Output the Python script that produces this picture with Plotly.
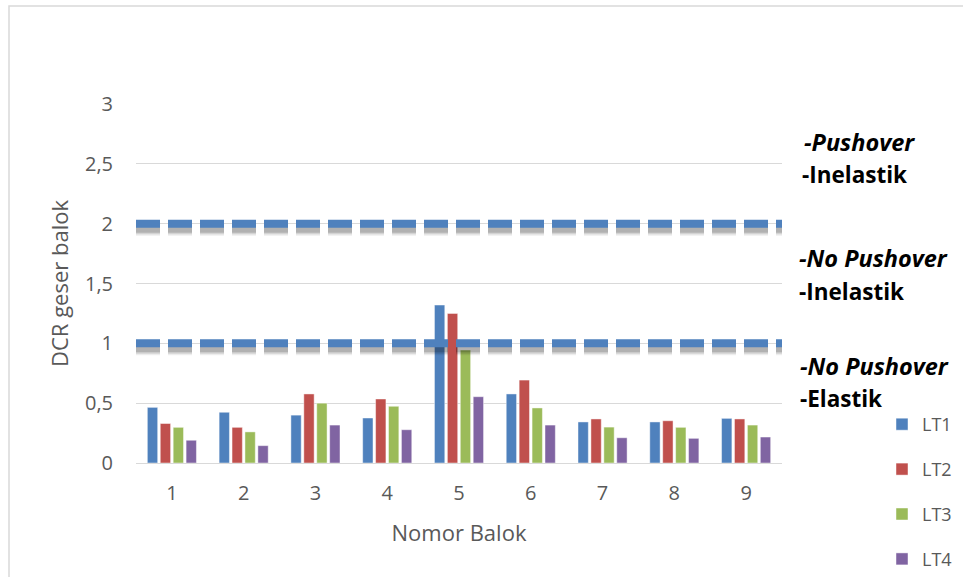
import plotly.graph_objects as go

# Beam numbers and shear DCR for each load case
beams = [1, 2, 3, 4, 5, 6, 7, 8, 9]
beam_labels = ["1", "2", "3", "4", "5", "6", "7", "8", "9"]
lt1 = [0.465, 0.424, 0.40, 0.376, 1.32, 0.577, 0.343, 0.343, 0.373]
lt2 = [0.33, 0.298, 0.577, 0.535, 1.25, 0.693, 0.368, 0.353, 0.368]
lt3 = [0.298, 0.26, 0.50, 0.474, 0.944, 0.46, 0.30, 0.298, 0.317]
lt4 = [0.19, 0.145, 0.317, 0.278, 0.554, 0.317, 0.211, 0.206, 0.217]
series_names = ["LT1", "LT2", "LT3", "LT4"]
series_values = [lt1, lt2, lt3, lt4]
series_colors = ["#4F81BD", "#C0504D", "#9BBB59", "#8064A2"]

# Limit lines
limit_values = [2.0, 1.0]

y_ticks = [0, 0.5, 1, 1.5, 2, 2.5, 3]
y_tick_labels = ["0", "0,5", "1", "1,5", "2", "2,5", "3"]

x_span = [0.5, 9.5]

FONT = "Open Sans"
GREY_TEXT = "#595959"
GRID = "#D9D9D9"

fig = go.Figure()

for name, vals, col in zip(series_names, series_values, series_colors):
    fig.add_trace(go.Bar(
        x=beams, y=vals, name=name,
        marker=dict(color=col, line=dict(color="rgba(255,255,255,0.45)", width=1)),
        legendgroup=name,
    ))

# soft drop shadow under each dashed limit line
shadow_offset = 0.042
for lv in limit_values:
    for w, a in [(14, 0.07), (11, 0.11), (8, 0.16)]:
        fig.add_trace(go.Scatter(
            x=x_span, y=[lv - shadow_offset] * 2, mode="lines",
            line=dict(color=f"rgba(0,0,0,{a})", width=w, dash="24px,8px"),
            showlegend=False, hoverinfo="skip",
        ))
for lv in limit_values:
    fig.add_trace(go.Scatter(
        x=x_span, y=[lv] * 2, mode="lines",
        line=dict(color="#4F81BD", width=8, dash="24px,8px"),
        showlegend=False, hoverinfo="skip",
    ))

notes = [
    ("<b><i>-Pushover</i></b>", 802, 142, 23.5),
    ("<b>-Inelastik</b>", 800, 174, 22.5),
    ("<b><i>-No Pushover</i></b>", 797, 258, 23.5),
    ("<b>-Inelastik</b>", 797, 291, 22.5),
    ("<b><i>-No Pushover</i></b>", 798, 366, 23.5),
    ("<b>-Elastik</b>", 798, 398, 22.5),
]
L, R, T, B = 136, 181, 104, 114
W, H = 963, 577
pw, ph = W - L - R, H - T - B
for txt, px, py, fs in notes:
    fig.add_annotation(
        text=txt, xref="paper", yref="paper",
        x=(px - L) / pw, y=(H - B - py) / ph,
        xanchor="left", yanchor="middle", showarrow=False,
        font=dict(family=FONT, size=fs, color="#000000"),
    )

# chart frame
fig.add_shape(type="rect", xref="paper", yref="paper",
              x0=(9 - L) / pw, x1=(W + 20 - L) / pw,
              y0=(H - B - (H + 20)) / ph, y1=(H - B - 6) / ph,
              line=dict(color=GRID, width=1.5), fillcolor="rgba(0,0,0,0)",
              layer="below")

fig.update_layout(
    width=W, height=H,
    margin=dict(l=L, r=R, t=T, b=B, autoexpand=False),
    paper_bgcolor="white", plot_bgcolor="white",
    barmode="group", bargap=0.28, bargroupgap=0.2,
    font=dict(family=FONT, color=GREY_TEXT),
    legend=dict(
        x=(882 - L) / pw, xanchor="left",
        y=(H - B - 406) / ph, yanchor="top",
        font=dict(size=18, color=GREY_TEXT),
        tracegroupgap=18.5, bgcolor="rgba(0,0,0,0)",
    ),
    xaxis=dict(
        range=x_span, tickvals=beams, ticktext=beam_labels,
        showgrid=False, zeroline=False, automargin=False,
        showline=True, linecolor=GRID, linewidth=1,
        ticks="outside", ticklen=12, tickcolor="rgba(0,0,0,0)",
        tickfont=dict(size=20, color=GREY_TEXT),
        title=dict(text="Nomor Balok", font=dict(size=22, color=GREY_TEXT), standoff=20),
    ),
    yaxis=dict(
        range=[0, 3], tickvals=y_ticks, ticktext=y_tick_labels,
        showgrid=True, gridcolor=GRID, gridwidth=1, zeroline=False, automargin=False,
        ticks="outside", ticklen=18, tickcolor="rgba(0,0,0,0)",
        tickfont=dict(size=20, color=GREY_TEXT),
        title=dict(text="DCR geser balok", font=dict(size=22, color=GREY_TEXT), standoff=10),
    ),
)

fig.write_html("out.html")
